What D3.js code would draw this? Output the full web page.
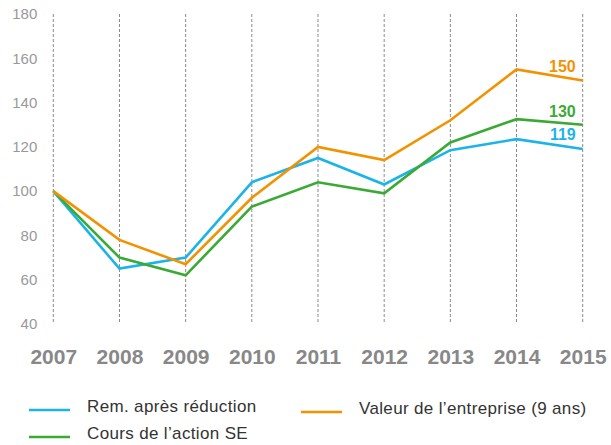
<!DOCTYPE html>
<html>
<head>
<meta charset="utf-8">
<script src="https://cdn.jsdelivr.net/npm/d3@7"></script>
<style>
  html, body { margin: 0; padding: 0; background: #fff; }
  svg { display: block; font-family: "Liberation Sans", Arial, Helvetica, sans-serif; }
</style>
</head>
<body>
<svg id="chart" width="611" height="445"></svg>
<script>
// Index values (base 100 in 2007)
const years = ["2007", "2008", "2009", "2010", "2011", "2012", "2013", "2014", "2015"];
const remApresReduction = [100, 65, 70, 104, 115, 103, 118.5, 123.5, 119];
const coursActionSE = [100, 70, 62, 93, 104, 99, 122, 132.5, 130];
const valeurEntreprise = [100, 78, 67, 97, 120, 114, 132, 155, 150];
const yTicks = [40, 60, 80, 100, 120, 140, 160, 180];

const seriesNames = ["Rem. après réduction", "Cours de l\u2019action SE", "Valeur de l\u2019entreprise (9 ans)"];
const seriesColors = ["#1cb4e8", "#3aaa35", "#f39200"];

const series = [
  { name: seriesNames[0], color: seriesColors[0], values: remApresReduction },
  { name: seriesNames[1], color: seriesColors[1], values: coursActionSE },
  { name: seriesNames[2], color: seriesColors[2], values: valeurEntreprise }
];

const svg = d3.select("#chart");

const x = d3.scalePoint().domain(years).range([53.3, 582.7]);
const y = d3.scaleLinear().domain([40, 180]).range([324, 14]);

// Vertical dashed year guides
svg.append("g")
  .selectAll("line")
  .data(years)
  .join("line")
  .attr("x1", d => x(d)).attr("x2", d => x(d))
  .attr("y1", y(180)).attr("y2", y(40))
  .attr("stroke", "#8a8a8a")
  .attr("stroke-width", 1)
  .attr("stroke-dasharray", "3,2");

// Y axis labels
const yAxis = svg.append("g")
  .attr("transform", `translate(${x(years[0])},0)`)
  .call(d3.axisLeft(y).tickValues(yTicks).tickSize(0).tickPadding(16));
yAxis.select(".domain").remove();
yAxis.selectAll("text")
  .attr("fill", "#999")
  .style("font-size", "15px");

// X axis labels
const xAxis = svg.append("g")
  .attr("transform", `translate(0,${y(40)})`)
  .call(d3.axisBottom(x).tickSize(0).tickPadding(25));
xAxis.select(".domain").remove();
xAxis.selectAll("text")
  .attr("fill", "#888")
  .style("font-size", "21px")
  .style("font-weight", "bold");

// Lines
const line = d3.line()
  .x((d, i) => x(years[i]))
  .y(d => y(d));

svg.append("g")
  .selectAll("path")
  .data(series)
  .join("path")
  .attr("d", d => line(d.values))
  .attr("fill", "none")
  .attr("stroke", d => d.color)
  .attr("stroke-width", 2.6)
  .attr("stroke-linejoin", "miter");

// End-value labels
const lastYear = years[years.length - 1];
const endLabels = [
  { s: series[2], dy: -8 },
  { s: series[1], dy: -8 },
  { s: series[0], dy: -9 }
];
svg.append("g")
  .selectAll("text")
  .data(endLabels)
  .join("text")
  .attr("x", x(lastYear) - 7)
  .attr("y", d => y(d.s.values[d.s.values.length - 1]) + d.dy)
  .attr("text-anchor", "end")
  .attr("fill", d => d.s.color)
  .style("font-size", "16px")
  .style("font-weight", "bold")
  .text(d => d3.format("d")(d.s.values[d.s.values.length - 1]));

// Legend
const legendItems = [
  { s: series[0], lx: 29, ly: 410 },
  { s: series[2], lx: 301, ly: 412 },
  { s: series[1], lx: 29, ly: 437 }
];
const legend = svg.append("g")
  .selectAll("g")
  .data(legendItems)
  .join("g")
  .attr("transform", d => `translate(${d.lx},${d.ly})`);
legend.append("line")
  .attr("x1", 0).attr("x2", 41)
  .attr("y1", 0).attr("y2", 0)
  .attr("stroke", d => d.s.color)
  .attr("stroke-width", 2.6);
legend.append("text")
  .attr("x", 58)
  .attr("y", 1.5)
  .attr("fill", "#333")
  .style("font-size", "17px")
  .style("letter-spacing", "0.35px")
  .text(d => d.s.name);
</script>
</body>
</html>
